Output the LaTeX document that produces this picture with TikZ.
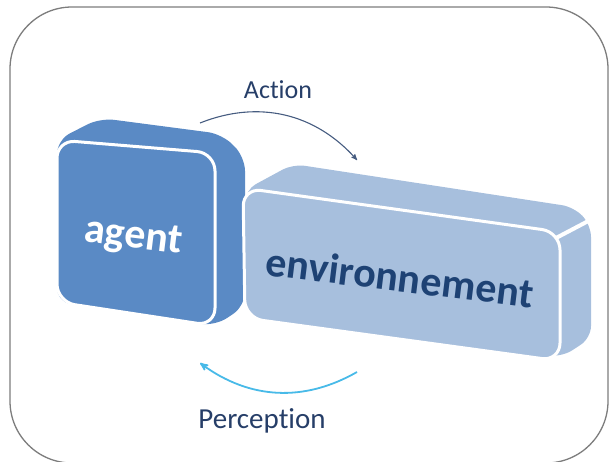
\documentclass[tikz,border=0pt]{standalone}
\usepackage{fontspec}
\setmainfont{Carlito}[Ligatures=NoCommon]
\usepackage{tikz}
\usetikzlibrary{arrows}
\definecolor{framegray}{RGB}{125,125,125}
\definecolor{agentblue}{RGB}{90,138,197}
\definecolor{envblue}{RGB}{167,191,221}
\definecolor{envtext}{RGB}{30,66,116}
\definecolor{labeltext}{RGB}{38,62,104}
\definecolor{actionline}{RGB}{70,92,128}
\definecolor{perceptline}{RGB}{72,186,232}
\tikzstyle{frame} =
[
	draw=framegray, line width=1.3pt, rounded corners=62pt
]
\tikzstyle{agentback} =
[
	fill=agentblue, rounded corners=14pt
]
\tikzstyle{agentfront} =
[
	fill=agentblue, draw=white, line width=3pt, rounded corners=18pt
]
\tikzstyle{envback} =
[
	fill=envblue, rounded corners=12pt
]
\tikzstyle{envfront} =
[
	fill=envblue, draw=white, line width=3pt, rounded corners=18pt
]
\tikzstyle{blocklabel} =
[
	font=\bfseries\fontsize{42}{42}\selectfont, rotate=-7, inner sep=0pt
]
\tikzstyle{arrowlabel} =
[
	font=\fontsize{26}{26}\selectfont, text=labeltext, inner sep=0pt
]

\begin{document}
\begin{tikzpicture}[x=1pt,y=-1pt,>=stealth',semithick]
\useasboundingbox (0,0) rectangle (609,461);

\draw[frame] (10,7) rectangle (608,463);

% agent block
\path[agentback] (57,140) -- (100,118) -- (222,134) -- (245,157) -- (245,306)
	-- (215,326) -- (57,302) -- cycle;
\path[agentfront] (57,140) -- (215,153) -- (215,326) -- (57,302) -- cycle;
\node[blocklabel, text=white] (agent) at (133,238) {agent};

% environment block
\path[envback] (245,190) -- (293,164) -- (574,207) -- (591,225) -- (591,338)
	-- (562,357) -- (248,318) -- cycle;
\draw[white, line width=4pt] (556,238) -- (594,218);
\path[envfront] (243,188) -- (560,232) -- (560,361) -- (245,318) -- cycle;
\node[blocklabel, text=envtext] (env) at (400,277) {environnement};

% action / perception
\coordinate (A1) at (200,123);
\coordinate (A2) at (357,160);
\coordinate (P1) at (357,372);
\coordinate (P2) at (200,363);

\node[arrowlabel] (action) at (278,90) {Action};
\node[arrowlabel, font=\fontsize{29}{29}\selectfont] (percept) at (262,421) {Perception};

\path
	(A1) edge[->, draw=actionline, line width=1.1pt, bend left=35] (A2)
	(P1) edge[->, draw=perceptline, line width=1.8pt, bend left=33] (P2);

\end{tikzpicture}
\end{document}
